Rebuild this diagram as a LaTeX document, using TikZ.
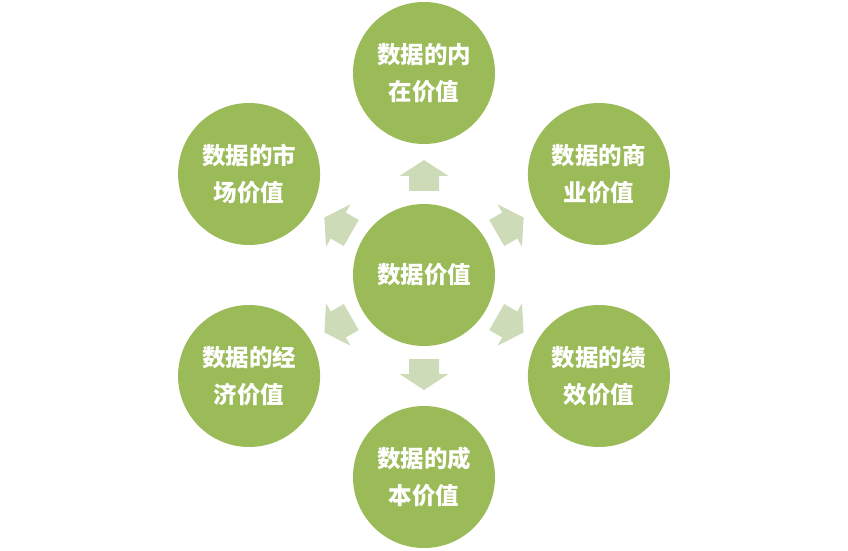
\documentclass[tikz,border=0pt]{standalone}
\usepackage{fontspec}
\usepackage{tikz}
\newfontfamily\cjk{Noto Sans CJK SC}
\definecolor{valgreen}{RGB}{155, 187, 89}
\definecolor{valgreenL}{RGB}{205, 219, 185}

\begin{document}
\begin{tikzpicture}[x = 1pt, y = 1pt,
	val/.style = {circle, fill = valgreen, text = white, minimum size = 142pt, inner sep = 0pt,
		align = center, font = \cjk\bfseries\fontsize{23.5}{37}\selectfont}]
			\useasboundingbox (-424,-276) rectangle (424,275);
			\node (c) at (0,0) [val] {数据价值};
			\node (n) at (90:202) [val] {数据的内\\在价值};
			\node (ne) at (30:202) [val] {数据的商\\业价值};
			\node (se) at (-30:202) [val] {数据的绩\\效价值};
			\node (s) at (-90:202) [val] {数据的成\\本价值};
			\node (sw) at (-150:202) [val] {数据的经\\济价值};
			\node (nw) at (150:202) [val] {数据的市\\场价值};
			\foreach \a in {90,30,-30,-90,-150,150}
				\fill[valgreenL, rotate = \a] (84,-15) -- (99,-15) -- (99,-24.5) -- (115,0)
					-- (99,24.5) -- (99,15) -- (84,15) -- cycle;
			\end{tikzpicture}
\end{document}
